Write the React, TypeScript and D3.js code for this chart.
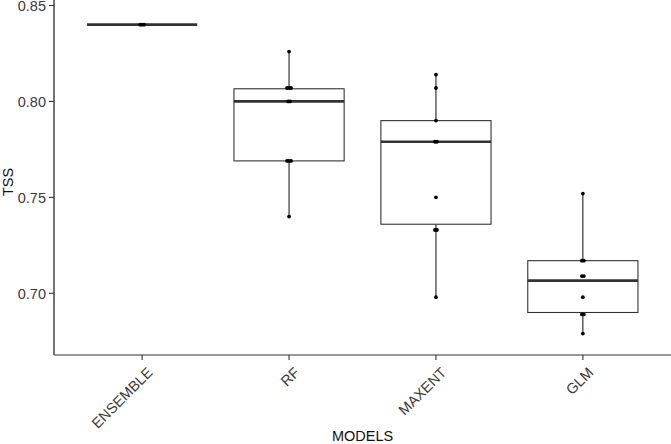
import React from "react";
import * as d3 from "d3";

const models = ["ENSEMBLE", "RF", "MAXENT", "GLM"];
const ensembleTSS = [0.84, 0.84, 0.84, 0.84, 0.84, 0.84, 0.84, 0.84, 0.84, 0.84];
const rfTSS = [0.826, 0.807, 0.807, 0.807, 0.8, 0.8, 0.769, 0.769, 0.769, 0.74];
const maxentTSS = [0.814, 0.807, 0.79, 0.779, 0.779, 0.75, 0.733, 0.733, 0.698];
const glmTSS = [0.752, 0.717, 0.717, 0.709, 0.709, 0.698, 0.689, 0.689, 0.679];
const boxQ1 = [0.84, 0.769, 0.736, 0.69];
const boxMedian = [0.84, 0.8, 0.779, 0.7066];
const boxQ3 = [0.84, 0.8066, 0.79, 0.717];
const yTicks = [0.7, 0.75, 0.8, 0.85];

const W = 671;
const H = 444;
const left = 54;
const bottom = 355;

export default function App() {
  const series = [ensembleTSS, rfTSS, maxentTSS, glmTSS];
  const x = d3.scalePoint<string>().domain(models).range([left, W]).padding(0.6);
  const step = x.step();
  const boxW = step * 0.75;
  const y = d3.scaleLinear().domain([0.7, 0.85]).range([293.3, 5.5]);
  const fmt = d3.format(".2f");

  return (
    <svg
      width={W}
      height={H}
      style={{ position: "fixed", left: 0, top: 0, background: "#fff" }}
      fontFamily="'Liberation Sans', Arial, sans-serif"
    >
      <rect x={0} y={0} width={W} height={H} fill="#fff" />
      {models.map((m, i) => {
        const cx = x(m)!;
        const vals = series[i];
        const lo = d3.min(vals)!;
        const hi = d3.max(vals)!;
        const q1 = boxQ1[i];
        const q3 = boxQ3[i];
        const med = boxMedian[i];
        const counts = new Map<number, number>();
        vals.forEach((v) => counts.set(v, (counts.get(v) || 0) + 1));
        const pts: { v: number; dx: number }[] = [];
        counts.forEach((n, v) => {
          const nn = Math.min(n, 3);
          for (let k = 0; k < nn; k++) pts.push({ v, dx: (k - (nn - 1) / 2) * 2 });
        });
        return (
          <g key={m}>
            <line x1={cx} x2={cx} y1={y(q3)} y2={y(hi)} stroke="#222" strokeWidth={1.1} />
            <line x1={cx} x2={cx} y1={y(q1)} y2={y(lo)} stroke="#222" strokeWidth={1.1} />
            <rect
              x={cx - boxW / 2}
              y={y(q3)}
              width={boxW}
              height={Math.max(0, y(q1) - y(q3))}
              fill="#fff"
              stroke="#333"
              strokeWidth={1.1}
            />
            <line
              x1={cx - boxW / 2}
              x2={cx + boxW / 2}
              y1={y(med)}
              y2={y(med)}
              stroke="#333"
              strokeWidth={2.7}
            />
            {pts.map((p, k) => (
              <circle key={k} cx={cx + p.dx} cy={y(p.v)} r={1.9} fill="#000" />
            ))}
          </g>
        );
      })}
      {/* axes */}
      <line x1={left} x2={left} y1={0} y2={bottom} stroke="#000" strokeWidth={1.1} />
      <line x1={left} x2={W} y1={bottom} y2={bottom} stroke="#333" strokeWidth={1.1} />
      {yTicks.map((t) => (
        <g key={t}>
          <line x1={left - 5} x2={left} y1={y(t)} y2={y(t)} stroke="#333" strokeWidth={1.1} />
          <text x={left - 8} y={y(t)} dy="0.36em" textAnchor="end" fontSize={14.5} fill="#3a3a3a">
            {fmt(t)}
          </text>
        </g>
      ))}
      {models.map((m) => (
        <g key={m}>
          <line x1={x(m)} x2={x(m)} y1={bottom} y2={bottom + 5} stroke="#333" strokeWidth={1.1} />
          <text
            transform={`translate(${x(m)! + 4},${bottom + 11}) rotate(-45)`}
            textAnchor="end"
            dy="0.72em"
            fontSize={14.5}
            fill="#3a3a3a"
          >
            {m}
          </text>
        </g>
      ))}
      <text x={(left + W) / 2} y={441} textAnchor="middle" fontSize={14.5} fill="#111">
        MODELS
      </text>
      <text
        transform={`translate(13,182) rotate(-90)`}
        textAnchor="middle"
        fontSize={14.5}
        fill="#111"
      >
        TSS
      </text>
    </svg>
  );
}
